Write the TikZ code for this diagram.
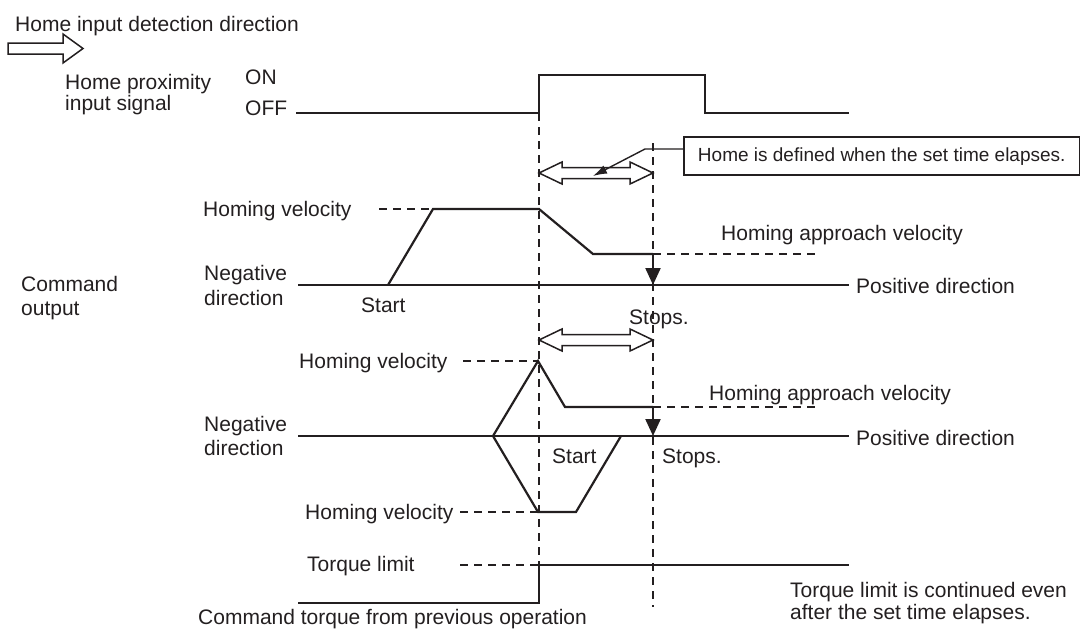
\documentclass[tikz,border=0pt]{standalone}
\usepackage{fontspec}
\setmainfont{Liberation Sans}
\usetikzlibrary{arrows.meta}
\definecolor{ink}{HTML}{231F20}
\begin{document}
\begin{tikzpicture}[x=1pt,y=-1pt,
  lbl/.style={anchor=west,inner sep=0pt,text=ink,text height=15pt,text depth=4.5pt,font=\fontsize{21}{24}\selectfont},
  lbltwo/.style={anchor=west,inner sep=0pt,text=ink,align=left},
  sig/.style={draw=ink,line width=2.2pt,line join=miter},
  baseln/.style={draw=ink,line width=1.8pt},
  guide/.style={draw=ink,line width=1.4pt,dash pattern=on 8pt off 6pt},
  hollow/.style={draw=ink,line width=1.5pt,fill=white,line join=miter},
  stoptip/.style={-{Triangle[length=17pt,width=15pt]}},
]
\useasboundingbox (0,0) rectangle (1080,629);

% ---------- top left ----------
\node[lbl] (hdir) at (15,26) {Home input detection direction};
\draw[hollow] (8,43) -- (63,43) -- (63,34) -- (83,48.5) -- (63,63) -- (63,54) -- (8,54) -- cycle;

\node[lbltwo,font=\fontsize{21}{21}\selectfont] (hprox) at (65,94.5) {Home proximity\\input signal};
\node[lbl] (on) at (245,79) {ON};
\node[lbl] (off) at (245,110) {OFF};

% home proximity signal
\coordinate (s0) at (296,113);
\coordinate (s1) at (539,113);
\coordinate (s2) at (539,75);
\coordinate (s3) at (705,75);
\coordinate (s4) at (705,113);
\coordinate (s5) at (849,113);
\draw[sig] (s0) -- (s1) -- (s2) -- (s3) -- (s4) -- (s5);

% vertical dashed guides
\coordinate (g1top) at (539,113);
\coordinate (g1bot) at (539,565);
\coordinate (g2top) at (653,143);
\coordinate (g2bot) at (653,607);
\draw[guide] (g1top) -- (g1bot);
\draw[guide] (g2top) -- (g2bot);

% ---------- upper double arrow and callout ----------
\draw[hollow] (539,173) -- (562,162) -- (562,167.5) -- (630,167.5) -- (630,162) -- (653,173)
  -- (630,184) -- (630,178.5) -- (562,178.5) -- (562,184) -- cycle;

\node[draw=ink,line width=1.5pt,anchor=west,minimum height=38pt,minimum width=396pt,
      inner sep=0pt,text=ink,text height=14pt,text depth=4pt,font=\fontsize{19}{22}\selectfont] (callout)
  at (683,156) {Home is defined when the set time elapses.};
\coordinate (lb) at (683,149);
\coordinate (lk) at (645,149);
\coordinate (lt) at (593,176);
\draw[draw=ink,line width=1.4pt,-{Latex[length=14pt,width=9pt]}] (lb) -- (lk) -- (lt);

% ---------- command output labels ----------
\node[lbltwo,font=\fontsize{21}{24}\selectfont] (cmd) at (21,298) {Command\\output};

% ---------- upper velocity profile ----------
\node[lbl] (hv1) at (203,211) {Homing velocity};
\node[lbltwo,font=\fontsize{21}{25}\selectfont] (neg1) at (204,285.5) {Negative\\direction};
\node[lbl] (hav1) at (721,235) {Homing approach velocity};
\node[lbl] (st1) at (361,307) {Start};
\node[lbl] (pos1) at (856,288) {Positive direction};
\node[lbl] (sp1) at (629,319) {Stops.};

\coordinate (b1l) at (298,285);
\coordinate (b1r) at (849,285);
\draw[baseln] (b1l) -- (b1r);
\coordinate (u0) at (388,285);
\coordinate (u1) at (433,209);
\coordinate (u2) at (539,209);
\coordinate (u3) at (593,254);
\coordinate (u4) at (653,254);
\coordinate (u5) at (653,285);
\draw[sig] (u0) -- (u1) -- (u2) -- (u3) -- (u4);
\draw[sig,stoptip] (u4) -- (u5);
\draw[guide] (379,209) -- (u1);
\draw[guide] (u4) -- (820,254);

% ---------- lower double arrow ----------
\draw[hollow] (539,340) -- (562,329) -- (562,334.5) -- (630,334.5) -- (630,329) -- (653,340)
  -- (630,351) -- (630,345.5) -- (562,345.5) -- (562,351) -- cycle;

% ---------- lower velocity profile ----------
\node[lbl] (hv2) at (299,363) {Homing velocity};
\node[lbltwo,font=\fontsize{21}{24}\selectfont] (neg2) at (204,436) {Negative\\direction};
\node[lbl] (hav2) at (709,395) {Homing approach velocity};
\node[lbl] (pos2) at (856,440) {Positive direction};
\node[lbl] (st2) at (552,458) {Start};
\node[lbl] (sp2) at (662,458) {Stops.};
\node[lbl] (hv3) at (305,514) {Homing velocity};

\coordinate (b2l) at (298,436);
\coordinate (b2r) at (849,436);
\draw[baseln] (b2l) -- (b2r);
\coordinate (w0) at (493,436);
\coordinate (w1) at (538,361);
\coordinate (w2) at (565,407);
\coordinate (w3) at (653,407);
\coordinate (w4) at (653,436);
\draw[sig] (w0) -- (w1) -- (w2) -- (w3);
\draw[sig,stoptip] (w3) -- (w4);
\coordinate (v1) at (538,512);
\coordinate (v2) at (576,512);
\coordinate (v3) at (621,436);
\draw[sig] (w0) -- (v1) -- (v2) -- (v3);
\draw[guide] (463,361) -- (w1);
\draw[guide] (w3) -- (820,407);
\draw[guide] (460,512) -- (v1);

% ---------- torque ----------
\node[lbl] (tl) at (307,566) {Torque limit};
\node[lbl] (ctp) at (198,619) {Command torque from previous operation};
\node[lbltwo,font=\fontsize{21}{21.5}\selectfont] (tlc) at (790,603) {Torque limit is continued even\\after the set time elapses.};

\coordinate (t0) at (298,603);
\coordinate (t1) at (539,603);
\coordinate (t2) at (539,565);
\coordinate (t3) at (849,565);
\draw[guide] (460,565) -- (t2);
\draw[sig] (t0) -- (t1) -- (t2) -- (t3);
\end{tikzpicture}
\end{document}
